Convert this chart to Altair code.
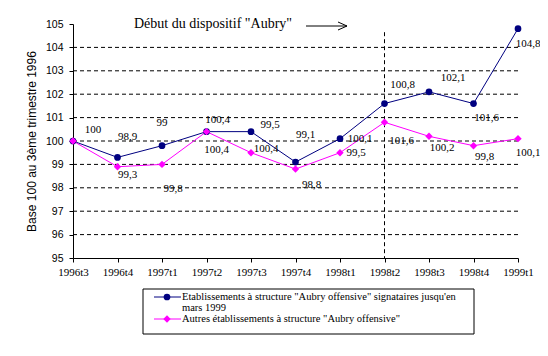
import altair as alt
import pandas as pd

# ---------------- data ----------------
quarters = ["1996t3", "1996t4", "1997t1", "1997t2", "1997t3", "1997t4",
            "1998t1", "1998t2", "1998t3", "1998t4", "1999t1"]
signataires = [100, 99.3, 99.8, 100.4, 100.4, 99.1, 100.1, 101.6, 102.1, 101.6, 104.8]
autres = [100, 98.9, 99.0, 100.4, 99.5, 98.8, 99.5, 100.8, 100.2, 99.8, 100.1]
signataires_labels = ["100", "99,3", "99,8", "100,4", "100,4", "99,1", "100,1",
                      "101,6", "102,1", "101,6", "104,8"]
autres_labels = ["", "98,9", "99", "100,4", "99,5", "98,8", "99,5",
                 "100,8", "100,2", "99,8", "100,1"]
y_ticks = list(range(95, 106))
grid_values = list(range(96, 105))
start_quarter = "1998t2"
start_top = 104.65
name_sig = "Etablissements à structure \"Aubry offensive\" signataires jusqu'en"
name_sig2 = "mars 1999"
name_aut = "Autres établissements à structure \"Aubry offensive\""
annotation = "Début du dispositif \"Aubry\""
y_title = "Base 100 au 3ème trimestre 1996"

# label offsets (style only, pixels)
sig_offsets = [(20, -11), (10, 18), (11, 43), (11, -12), (15, 17), (10, -27),
               (20, 0), (17, 37), (24, -14), (13, 14), (10, 15)]
aut_offsets = [(0, 0), (10, -30), (0, -41), (10, 18), (19, -28), (16, 16),
               (16, 0), (18, -37), (13, 12), (11, 11), (10, 14)]

NAVY = "#000080"
MAGENTA = "#FF00FF"
SERIF = "Liberation Serif"
SANS = "Liberation Sans"

df = pd.DataFrame({
    "q": quarters * 2,
    "v": signataires + autres,
    "s": ["sig"] * len(quarters) + ["aut"] * len(quarters),
})

xscale = alt.Scale(type="point", padding=0, domain=quarters)
yscale = alt.Scale(domain=[95, 105], nice=False, zero=False)
cscale = alt.Scale(domain=["sig", "aut"], range=[NAVY, MAGENTA])

xaxis = alt.Axis(labelAngle=0, tickSize=4, labelPadding=4, domainColor="black",
                 tickColor="black", labelFont=SERIF, labelFontSize=11,
                 labelColor="black", grid=False, title=None, labelOverlap=False)
yaxis = alt.Axis(values=y_ticks, tickSize=4, labelPadding=6, domainColor="black",
                 tickColor="black", labelFont=SANS, labelFontSize=10.5,
                 labelColor="black", grid=False, titleFont=SANS,
                 titleFontSize=12, titleFontWeight="normal", titleColor="black",
                 titlePadding=7, title=y_title, labelOverlap=False)

X = alt.X("q:O", scale=xscale, sort=quarters, axis=xaxis)
Y = alt.Y("v:Q", scale=yscale, axis=yaxis)

grid = alt.Chart(pd.DataFrame({"v": grid_values})).mark_rule(
    color="black", strokeDash=[4, 3], strokeWidth=1
).encode(y=Y)

vline = alt.Chart(pd.DataFrame({"q": [start_quarter], "v": [start_top], "b": [95]})).mark_rule(
    color="black", strokeDash=[4, 3], strokeWidth=1
).encode(x=X, y=Y, y2="b:Q")

lines = alt.Chart(df).mark_line(strokeWidth=1).encode(
    x=X, y=Y,
    color=alt.Color("s:N", scale=cscale, legend=None),
    detail="s:N",
)

pts_sig = alt.Chart(df[df.s == "sig"]).mark_point(
    shape="circle", filled=True, size=45, color=NAVY, opacity=1
).encode(x=X, y=Y)

pts_aut = alt.Chart(df[df.s == "aut"]).mark_point(
    shape="diamond", filled=True, size=55, color=MAGENTA, opacity=1
).encode(x=X, y=Y)

label_layers = []
for vals, labs, offs in [(signataires, signataires_labels, sig_offsets),
                         (autres, autres_labels, aut_offsets)]:
    for q, v, t, (dx, dy) in zip(quarters, vals, labs, offs):
        if not t:
            continue
        label_layers.append(
            alt.Chart(pd.DataFrame({"q": [q], "v": [v], "t": [t]})).mark_text(
                font=SERIF, fontSize=11, color="black", dx=dx, dy=dy,
                align="center", baseline="middle"
            ).encode(x=X, y=Y, text="t:N")
        )

one = pd.DataFrame({"a": [0]})

title_txt = alt.Chart(pd.DataFrame({"t": [annotation]})).mark_text(
    font=SERIF, fontSize=14, color="black", align="center", baseline="middle"
).encode(x=alt.value(140), y=alt.value(0), text="t:N")

arrow_shaft = alt.Chart(one).mark_rule(color="black", strokeWidth=1).encode(
    x=alt.value(233), x2=alt.value(274), y=alt.value(2), y2=alt.value(2))
arrow_h1 = alt.Chart(one).mark_rule(color="black", strokeWidth=1).encode(
    x=alt.value(265), x2=alt.value(274), y=alt.value(-2), y2=alt.value(2))
arrow_h2 = alt.Chart(one).mark_rule(color="black", strokeWidth=1).encode(
    x=alt.value(265), x2=alt.value(274), y=alt.value(6), y2=alt.value(2))

# legend (manual)
leg_box = alt.Chart(one).mark_rect(fill="white", stroke="black", strokeWidth=1).encode(
    x=alt.value(70), x2=alt.value(401), y=alt.value(265), y2=alt.value(310))
leg_l1 = alt.Chart(one).mark_rule(color=NAVY, strokeWidth=1).encode(
    x=alt.value(81), x2=alt.value(108), y=alt.value(273), y2=alt.value(273))
leg_p1 = alt.Chart(one).mark_point(shape="circle", filled=True, size=45, color=NAVY,
                                   opacity=1).encode(x=alt.value(94), y=alt.value(273))
leg_l2 = alt.Chart(one).mark_rule(color=MAGENTA, strokeWidth=1).encode(
    x=alt.value(81), x2=alt.value(108), y=alt.value(295), y2=alt.value(295))
leg_p2 = alt.Chart(one).mark_point(shape="diamond", filled=True, size=55, color=MAGENTA,
                                   opacity=1).encode(x=alt.value(94), y=alt.value(295))

def leg_text(t, y):
    return alt.Chart(pd.DataFrame({"t": [t]})).mark_text(
        font=SERIF, fontSize=10.5, color="black", align="left", baseline="middle"
    ).encode(x=alt.value(109), y=alt.value(y), text="t:N")

chart = alt.layer(
    grid, vline, lines, pts_sig, pts_aut, *label_layers,
    title_txt, arrow_shaft, arrow_h1, arrow_h2,
    leg_box, leg_l1, leg_p1, leg_l2, leg_p2,
    leg_text(name_sig, 273), leg_text(name_sig2, 284), leg_text(name_aut, 295),
).properties(
    width=445, height=234,
    padding={"left": 65, "top": 16, "right": 22, "bottom": 90},
    autosize=alt.AutoSizeParams(type="none"),
    background="white",
).configure_view(stroke=None).configure_axis(labelOverlap=False)

chart.save("out.html", embed_options={"renderer": "svg", "actions": False})
